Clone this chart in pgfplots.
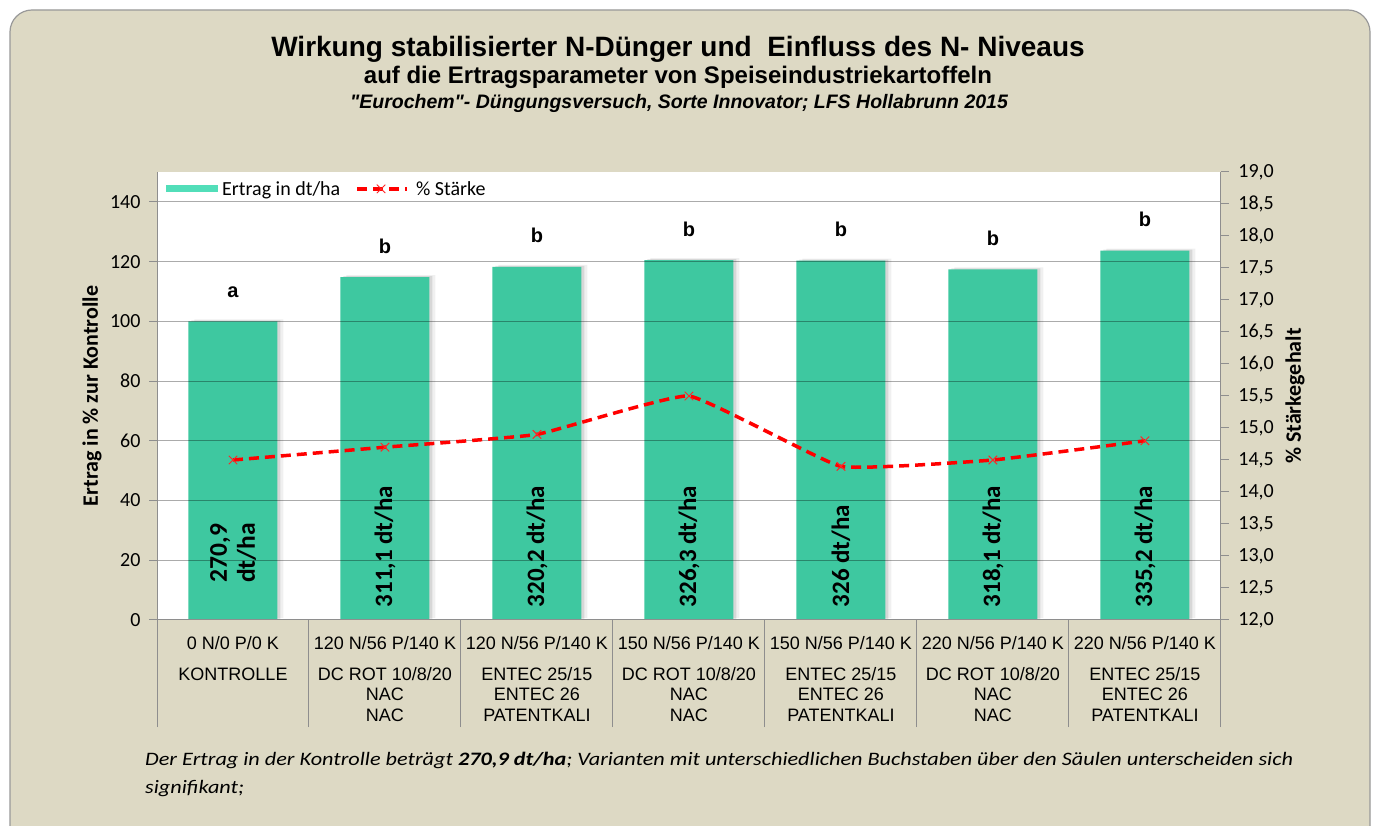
\documentclass[border=0pt]{standalone}
\usepackage{pgfplots}
\pgfplotsset{compat=1.18}
\usepackage{fontspec}
\setmainfont{Carlito}
\newfontfamily\arial{Liberation Sans}
\newfontfamily\footfont[FakeStretch=1.17]{Carlito}
\definecolor{bg}{HTML}{DDD9C4}
\definecolor{bargreen}{HTML}{3EC8A0}
\definecolor{legendgreen}{HTML}{52DEB9}
\definecolor{axgray}{HTML}{8E8E8E}
\definecolor{starch}{HTML}{FF0000}
\begin{document}
\begin{tikzpicture}
\useasboundingbox (0bp,0bp) rectangle (1373bp,826bp);
\begin{scope}
\clip (0bp,0bp) rectangle (1373bp,826bp);
\fill[white] (0bp,0bp) rectangle (1373bp,826bp);
\draw[draw=axgray!90, fill=bg, line width=1.2bp, rounded corners=22bp] (10bp,-40bp) rectangle (1370bp,816bp);
\end{scope}

% titles
\node[anchor=base, font=\arial\bfseries\fontsize{28bp}{32bp}\selectfont, inner sep=0pt] at (678bp,769bp) {Wirkung stabilisierter N-Dünger und\ \ Einfluss des N- Niveaus};
\node[anchor=base, font=\arial\bfseries\fontsize{24bp}{28bp}\selectfont, inner sep=0pt] at (678bp,742bp) {auf die Ertragsparameter von Speiseindustriekartoffeln};
\node[anchor=base, font=\arial\bfseries\itshape\fontsize{19.5bp}{23bp}\selectfont, inner sep=0pt] at (679bp,717bp) {"Eurochem"- Düngungsversuch, Sorte Innovator; LFS Hollabrunn 2015};

\begin{axis}[
  at={(157bp,206bp)}, anchor=south west,
  scale only axis, width=1064bp, height=448bp,
  xmin=-0.5, xmax=6.5, ymin=0, ymax=150,
  axis background/.style={fill=white},
  axis x line*=bottom, axis y line*=left,
  axis line style={axgray, line width=1bp},
  axis on top,
  ytick={0,20,40,60,80,100,120,140},
  ymajorgrids, major grid style={black, opacity=0.33, line width=1bp},
  tick align=outside,
  major tick length=8bp,
  tick style={axgray, line width=1bp},
  xtick={0,1,2,3,4,5,6},
  major x tick style={draw=none},
  minor xtick={-0.5,0.5,1.5,2.5,3.5,4.5,5.5,6.5},
  minor tick length=107bp,
  xticklabels={
    {0 N/0 P/0 K\\[10.5bp]KONTROLLE},
    {120 N/56 P/140 K\\[10.5bp]DC ROT 10/8/20\\NAC\\NAC},
    {120 N/56 P/140 K\\[10.5bp]ENTEC 25/15\\ENTEC 26\\PATENTKALI},
    {150 N/56 P/140 K\\[10.5bp]DC ROT 10/8/20\\NAC\\NAC},
    {150 N/56 P/140 K\\[10.5bp]ENTEC 25/15\\ENTEC 26\\PATENTKALI},
    {220 N/56 P/140 K\\[10.5bp]DC ROT 10/8/20\\NAC\\NAC},
    {220 N/56 P/140 K\\[10.5bp]ENTEC 25/15\\ENTEC 26\\PATENTKALI}},
  xticklabel style={font=\arial\fontsize{18bp}{20.7bp}\selectfont, align=center, anchor=north, yshift=-4.5bp},
  yticklabel style={font=\fontsize{20bp}{24bp}\selectfont, xshift=-5bp},
  /pgf/number format/assume math mode=true,
  ylabel={Ertrag in \% zur Kontrolle},
  ylabel style={font=\bfseries\fontsize{22bp}{26bp}\selectfont, at={(rel axis cs:0,0.5)}, anchor=center, yshift=65bp},
]
\addplot[ybar, fill=bargreen, draw=none, bar width=89bp, bar shift=0pt,
  preaction={fill=black, fill opacity=0.06, transform canvas={xshift=6bp, yshift=2bp}},
  preaction={fill=black, fill opacity=0.10, transform canvas={xshift=3bp, yshift=1bp}},
  nodes near coords, point meta=explicit symbolic,
  nodes near coords style={font=\arial\bfseries\fontsize{20bp}{24bp}\selectfont, anchor=base, yshift=24bp, black}]
  coordinates {(0,100)[a] (1,114.8)[b] (2,118.2)[b] (3,120.5)[b] (4,120.3)[b] (5,117.4)[b] (6,123.7)[b]};
\node[rotate=90, align=center, font=\bfseries\fontsize{25.5bp}{28bp}\selectfont, anchor=center, inner sep=0pt] at (axis cs:0,22.4) {270,9\\dt/ha};
\node[rotate=90, font=\bfseries\fontsize{25bp}{28bp}\selectfont, anchor=west, inner sep=0pt] at (axis cs:1,4.2) {311,1 dt/ha};
\node[rotate=90, font=\bfseries\fontsize{25bp}{28bp}\selectfont, anchor=west, inner sep=0pt] at (axis cs:2,4.2) {320,2 dt/ha};
\node[rotate=90, font=\bfseries\fontsize{25bp}{28bp}\selectfont, anchor=west, inner sep=0pt] at (axis cs:3,4.2) {326,3 dt/ha};
\node[rotate=90, font=\bfseries\fontsize{25bp}{28bp}\selectfont, anchor=west, inner sep=0pt] at (axis cs:4,4.2) {326 dt/ha};
\node[rotate=90, font=\bfseries\fontsize{25bp}{28bp}\selectfont, anchor=west, inner sep=0pt] at (axis cs:5,4.2) {318,1 dt/ha};
\node[rotate=90, font=\bfseries\fontsize{25bp}{28bp}\selectfont, anchor=west, inner sep=0pt] at (axis cs:6,4.2) {335,2 dt/ha};
\end{axis}

\begin{axis}[
  at={(157bp,206bp)}, anchor=south west,
  scale only axis, width=1064bp, height=448bp,
  xmin=-0.5, xmax=6.5, ymin=12, ymax=19,
  axis x line=none, axis y line*=right,
  axis line style={axgray, line width=1bp},
  tick align=outside, major tick length=8bp, tick style={axgray, line width=1bp},
  ytick={12,12.5,13,13.5,14,14.5,15,15.5,16,16.5,17,17.5,18,18.5,19},
  yticklabel style={font=\fontsize{20bp}{24bp}\selectfont, xshift=6bp,
    /pgf/number format/.cd, fixed, fixed zerofill, precision=1, use comma},
  /pgf/number format/assume math mode=true,
  ylabel={\% Stärkegehalt},
  ylabel style={font=\bfseries\fontsize{22bp}{26bp}\selectfont, at={(rel axis cs:1,0.5)}, anchor=center, yshift=-74bp},
  legend columns=2,
  legend cell align=left,
  legend style={at={(rel axis cs:0,1)}, anchor=north west, xshift=9bp, yshift=-7bp,
    draw=none, fill=none, inner sep=0pt,
    font=\fontsize{20bp}{24bp}\selectfont,
    /tikz/every even column/.append style={column sep=13bp}},
]
\addlegendimage{draw=none, fill=legendgreen, legend image code/.code={\path[fill=legendgreen, draw=none] (0bp,-3.5bp) rectangle (52bp,3.5bp); \path[draw=none, fill=none] (0bp,0bp) -- (54bp,0bp);}}
\addlegendentry{Ertrag in dt/ha}
\addplot[starch, line width=3.5bp, dash pattern=on 10bp off 6bp, smooth, tension=0.2, mark=x, mark size=6bp,
  mark options={solid, line width=1bp, draw=starch!85!white},
  legend image code/.code={\draw[starch, line width=3.5bp, dash pattern=on 10bp off 6bp] (0bp,0bp) -- (50bp,0bp); \draw[starch, line width=1bp] plot[mark=x, mark size=6bp] coordinates {(24bp,0bp)}; \path[draw=none] (0bp,0bp) -- (57bp,0bp);}]
  coordinates {(0,14.5) (1,14.7) (2,14.9) (3,15.5) (4,14.4) (5,14.5) (6,14.8)};
\addlegendentry{\% Stärke}
\end{axis}

% footnote
\node[anchor=base west, inner sep=0pt, font=\footfont\itshape\fontsize{19bp}{27bp}\selectfont] at (145bp,60bp) {Der Ertrag in der Kontrolle beträgt \textbf{270,9 dt/ha}; Varianten mit unterschiedlichen Buchstaben über den Säulen unterscheiden sich};
\node[anchor=base west, inner sep=0pt, font=\footfont\itshape\fontsize{19bp}{27bp}\selectfont] at (145bp,33bp) {signifikant;};
\end{tikzpicture}
\end{document}
